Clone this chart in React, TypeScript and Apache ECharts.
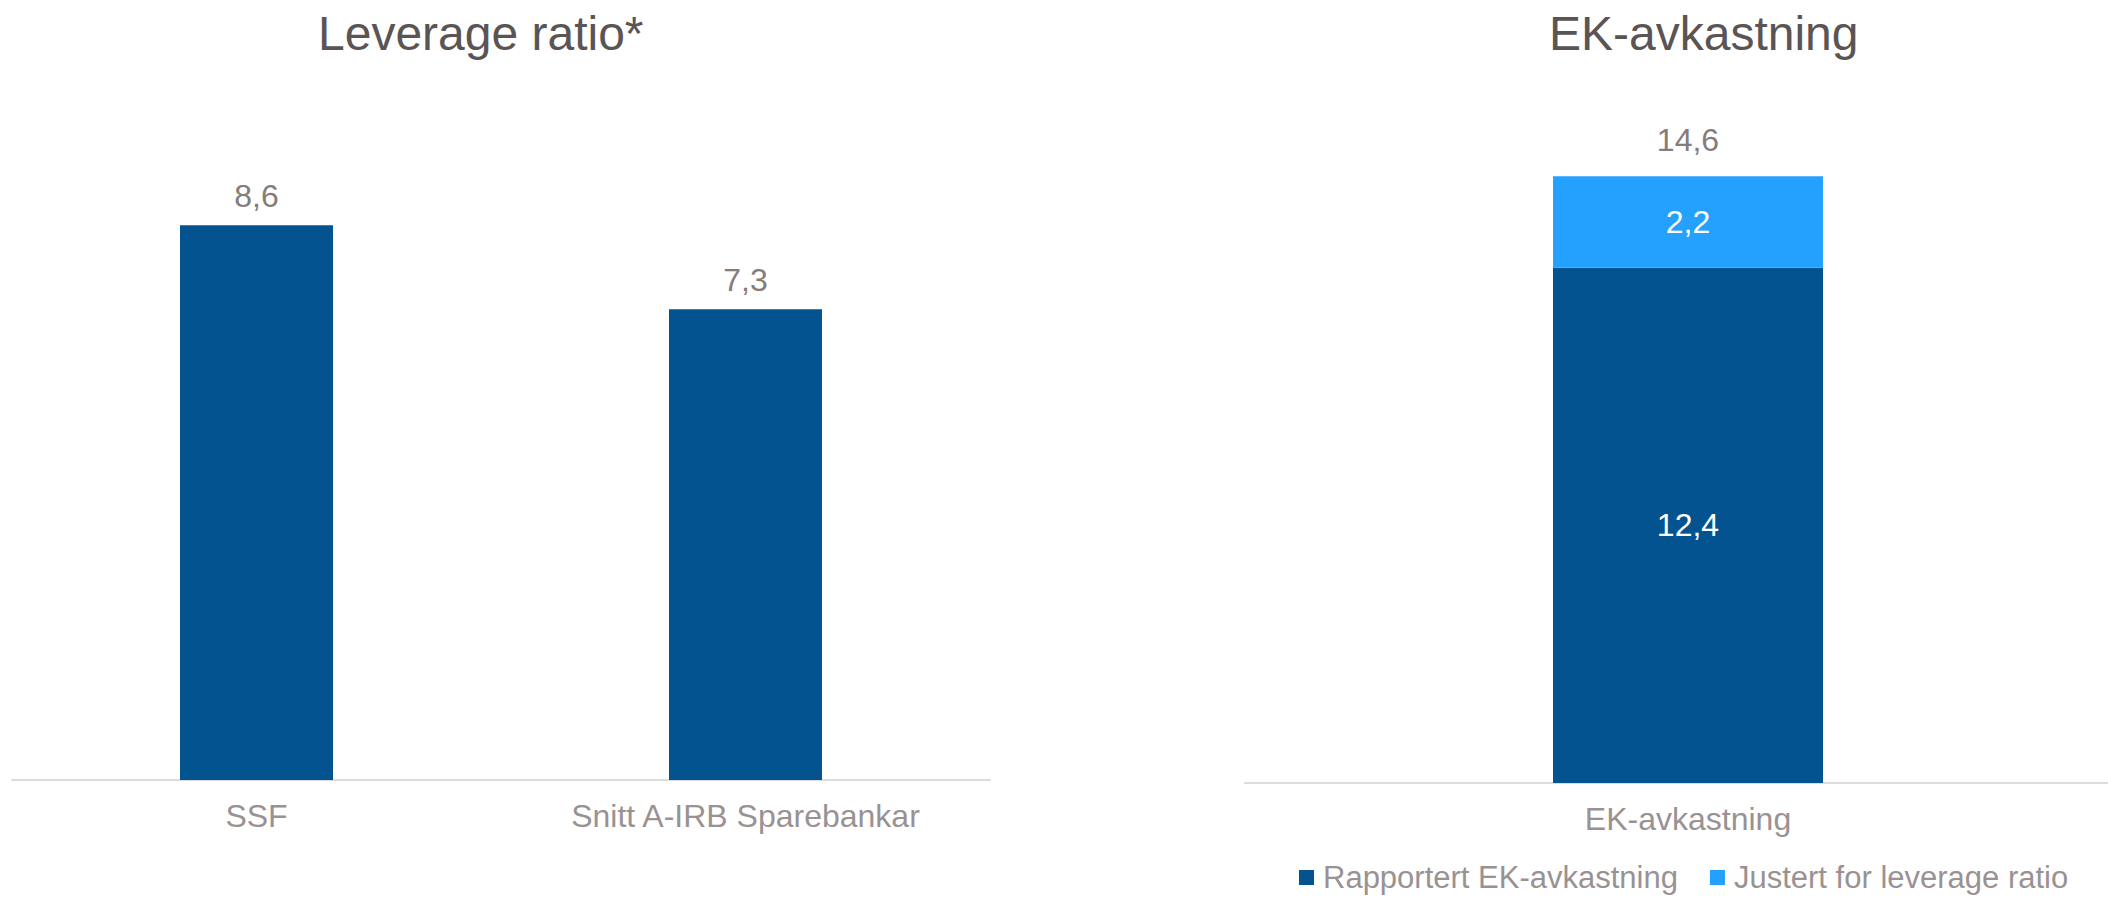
import React, { useEffect, useRef } from "react";
import * as echarts from "echarts";

const titles = ["Leverage ratio*", "EK-avkastning"];
const leverageCategories = ["SSF", "Snitt A-IRB Sparebankar"];
const leverageValues = [8.6, 7.3];
const roeCategories = ["EK-avkastning"];
const reportedRoe = [12.4];
const adjustedRoe = [2.2];
const seriesNames = ["Rapportert EK-avkastning", "Justert for leverage ratio"];

const DARK = "#02538f";
const LIGHT = "#24a1fe";
const TITLE_COLOR = "#5a5454";
const LABEL_COLOR = "#857c7c";
const AXIS_LABEL_COLOR = "#9a9292";
const FONT = "'Liberation Sans', Arial, sans-serif";

const fmt = (v: number) => v.toFixed(1).replace(".", ",");

export default function App() {
  const ref = useRef<HTMLDivElement>(null);

  useEffect(() => {
    if (!ref.current) return;
    const chart = echarts.init(ref.current, undefined, { renderer: "svg" });
    const totals = reportedRoe.map((v, i) => v + adjustedRoe[i]);

    const xAxisCommon = {
      type: "category" as const,
      axisTick: { show: false },
      axisLine: { lineStyle: { color: "#dcdcdc", width: 2 } },
      axisLabel: {
        color: AXIS_LABEL_COLOR,
        fontSize: 32,
        fontFamily: FONT,
        margin: 20,
      },
    };

    chart.setOption({
      animation: false,
      backgroundColor: "#ffffff",
      title: [
        {
          text: titles[0],
          left: 318,
          top: 9,
          padding: 0,
          textStyle: { fontSize: 48, fontWeight: "normal", color: TITLE_COLOR, fontFamily: FONT },
        },
        {
          text: titles[1],
          left: 1549,
          top: 9,
          padding: 0,
          textStyle: { fontSize: 48, fontWeight: "normal", color: TITLE_COLOR, fontFamily: FONT },
        },
      ],
      legend: {
        data: seriesNames,
        left: 1299,
        top: 862,
        padding: 0,
        icon: "rect",
        itemWidth: 15,
        itemHeight: 15,
        itemGap: 32,
        textStyle: { color: AXIS_LABEL_COLOR, fontSize: 31, fontFamily: FONT, padding: [0, 0, 0, 4] },
      },
      grid: [
        { left: 12, top: 135, width: 978, height: 645 },
        { left: 1245, top: 118, width: 886, height: 665 },
      ],
      xAxis: [
        { ...xAxisCommon, gridIndex: 0, data: leverageCategories },
        { ...xAxisCommon, gridIndex: 1, data: roeCategories },
      ],
      yAxis: [
        { type: "value", gridIndex: 0, min: 0, max: 10, show: false, splitLine: { show: false } },
        { type: "value", gridIndex: 1, min: 0, max: 16, show: false, splitLine: { show: false } },
      ],
      series: [
        {
          name: "Leverage ratio",
          type: "bar",
          xAxisIndex: 0,
          yAxisIndex: 0,
          data: leverageValues,
          barWidth: 153,
          itemStyle: { color: DARK },
          label: {
            show: true,
            position: "top",
            distance: 13,
            color: LABEL_COLOR,
            fontSize: 32,
            fontFamily: FONT,
            formatter: (p: any) => fmt(p.value),
          },
        },
        {
          name: seriesNames[0],
          type: "bar",
          xAxisIndex: 1,
          yAxisIndex: 1,
          stack: "roe",
          data: reportedRoe,
          barWidth: 270,
          itemStyle: { color: DARK },
          label: {
            show: true,
            position: "inside",
            color: "#ffffff",
            fontSize: 32,
            fontFamily: FONT,
            formatter: (p: any) => fmt(p.value),
          },
        },
        {
          name: seriesNames[1],
          type: "bar",
          xAxisIndex: 1,
          yAxisIndex: 1,
          stack: "roe",
          data: adjustedRoe,
          barWidth: 270,
          itemStyle: { color: LIGHT },
          label: {
            show: true,
            position: "inside",
            color: "#ffffff",
            fontSize: 32,
            fontFamily: FONT,
            formatter: (p: any) => fmt(p.value),
          },
        },
        {
          name: "Total",
          type: "bar",
          xAxisIndex: 1,
          yAxisIndex: 1,
          stack: "roe",
          data: totals.map(() => 0),
          barWidth: 270,
          itemStyle: { color: "transparent" },
          label: {
            show: true,
            position: "top",
            distance: 20,
            color: LABEL_COLOR,
            fontSize: 32,
            fontFamily: FONT,
            formatter: (p: any) => fmt(totals[p.dataIndex]),
          },
        },
      ],
    });

    return () => chart.dispose();
  }, []);

  return (
    <div
      style={{
        position: "absolute",
        left: 0,
        top: 0,
        width: 2108,
        height: 897,
        overflow: "hidden",
        background: "#fff",
      }}
    >
      <div ref={ref} style={{ width: 2131, height: 897 }} />
    </div>
  );
}
